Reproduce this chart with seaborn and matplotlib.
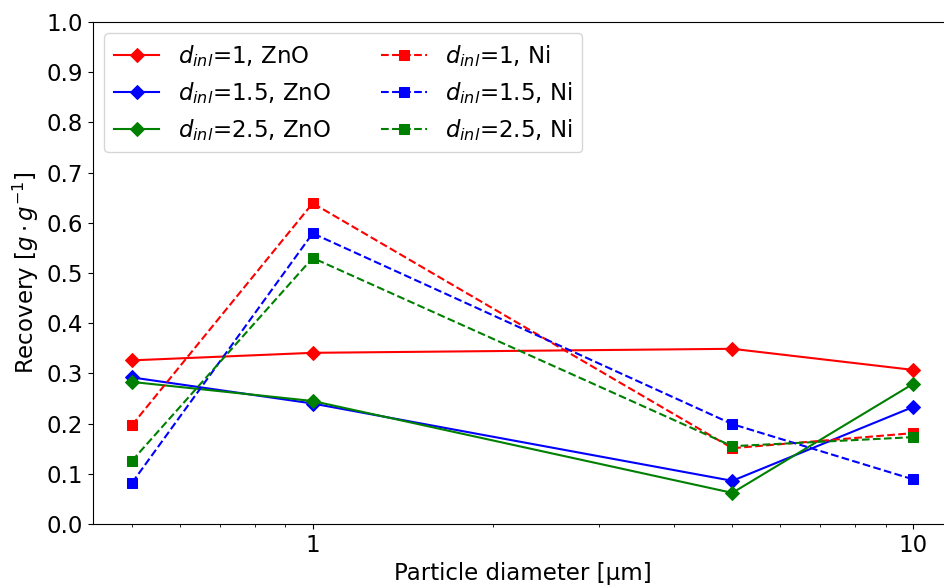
import matplotlib
matplotlib.use("Agg")
import matplotlib.pyplot as plt
from matplotlib.ticker import NullFormatter, FixedLocator, FixedFormatter
import seaborn as sns
import pandas as pd

# Data
diameters = [0.5, 1, 5, 10]
zno_d1 = [0.326, 0.341, 0.349, 0.307]
zno_d15 = [0.292, 0.240, 0.086, 0.233]
zno_d25 = [0.283, 0.245, 0.062, 0.279]
ni_d1 = [0.197, 0.639, 0.151, 0.181]
ni_d15 = [0.082, 0.579, 0.199, 0.089]
ni_d25 = [0.126, 0.530, 0.155, 0.173]

series = [
    (r"$d_{inl}$=1, ZnO", zno_d1, "red", "D", "-"),
    (r"$d_{inl}$=1.5, ZnO", zno_d15, "blue", "D", "-"),
    (r"$d_{inl}$=2.5, ZnO", zno_d25, "green", "D", "-"),
    (r"$d_{inl}$=1, Ni", ni_d1, "red", "s", "--"),
    (r"$d_{inl}$=1.5, Ni", ni_d15, "blue", "s", "--"),
    (r"$d_{inl}$=2.5, Ni", ni_d25, "green", "s", "--"),
]

plt.rcParams["font.family"] = ["DejaVu Sans"]
plt.rcParams["font.size"] = 16.5

fig = plt.figure(figsize=(9.44, 5.87), dpi=100)
ax = fig.add_axes([93 / 944, 1 - 524 / 587, (952 - 93) / 944, (524 - 22) / 587])

for label, vals, color, marker, ls in series:
    df = pd.DataFrame({"d": diameters, "r": vals})
    sns.lineplot(data=df, x="d", y="r", ax=ax, color=color, marker=marker,
                 linestyle=ls, markersize=7.5 if marker == "D" else 7,
                 markeredgecolor=color, linewidth=1.5, label=label)

ax.set_xscale("log")
ax.set_ylim(0, 1.0)
ax.set_yticks([i / 10 for i in range(11)])
ax.set_yticklabels([f"{i / 10:.1f}" for i in range(11)])
ax.xaxis.set_major_locator(FixedLocator([1, 10]))
ax.xaxis.set_major_formatter(FixedFormatter(["1", "10"]))
ax.xaxis.set_minor_formatter(NullFormatter())
ax.set_xlim(10 ** -0.366, 10 ** 1.065)
ax.spines["right"].set_visible(False)
ax.set_xlabel("Particle diameter [µm]")
ax.set_ylabel(r"Recovery [$g \cdot g^{-1}$]")
ax.tick_params(labelsize=16.5)
ax.legend(loc="upper left", ncol=2, fontsize=16.5, handlelength=2.0,
          columnspacing=2.2)

fig.savefig("out.png", dpi=100)
